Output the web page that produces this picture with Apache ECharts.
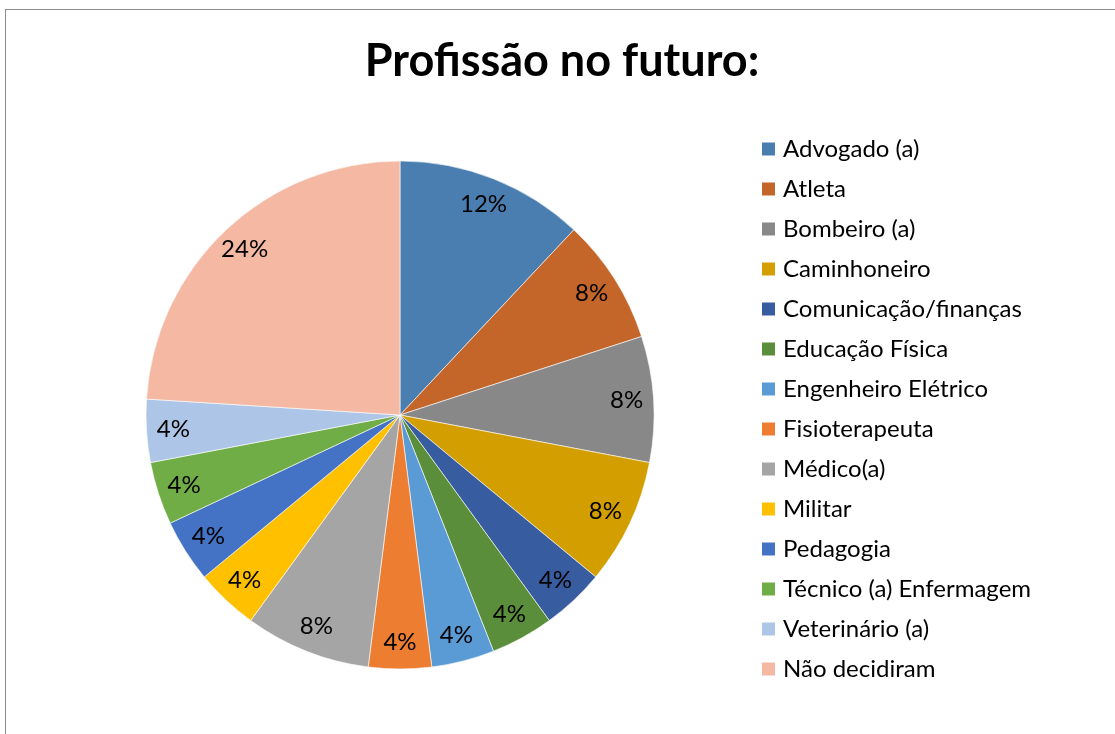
<!DOCTYPE html>
<html lang="pt-br">
<head>
  <meta charset="utf-8">
  <title>Profissão no futuro</title>
  <script src="https://cdn.jsdelivr.net/npm/echarts@6/dist/echarts.min.js"></script>
  <style>
    html, body { margin: 0; padding: 0; background: #fff; overflow: hidden; }
    #frame {
      position: absolute; left: 5px; top: 9px;
      width: 1200px; height: 800px;
      border-left: 1px solid #8c8c8c; border-top: 1px solid #8c8c8c;
    }
    #chart-box { position: absolute; left: 0; top: 0; width: 1115px; height: 734px; }
  </style>
</head>
<body>
  <div id="frame"></div>
  <div id="chart-box"></div>
  <script>
    // profissões e quantidade de alunos
    var categories = ['Advogado (a)', 'Atleta', 'Bombeiro (a)', 'Caminhoneiro', 'Comunicação/finanças',
      'Educação Física', 'Engenheiro Elétrico', 'Fisioterapeuta', 'Médico(a)', 'Militar',
      'Pedagogia', 'Técnico (a) Enfermagem', 'Veterinário (a)', 'Não decidiram'];
    var counts = [3, 2, 2, 2, 1, 1, 1, 1, 2, 1, 1, 1, 1, 6];
    var colors = ['#4a7eb0', '#c4652a', '#888888', '#d39e00', '#375c9f', '#5b8e3b', '#5b9bd5',
      '#ed7d31', '#a5a5a5', '#ffc000', '#4472c4', '#70ad47', '#adc5e6', '#f4b8a3'];

    var pieData = categories.map(function (name, i) {
      return { name: name, value: counts[i] };
    });

    var chart = echarts.init(document.querySelector('#chart-box'));
    var font = 'Lato, Calibri, "Noto Sans", sans-serif';

    chart.setOption({
      animation: false,
      color: colors,
      title: {
        text: 'Profissão no futuro:',
        left: 557, top: 34, textAlign: 'center',
        textStyle: { fontFamily: font, fontSize: 45, fontWeight: 'bold', color: '#000' }
      },
      legend: {
        orient: 'vertical',
        left: 760, top: 137,
        padding: 0,
        height: 600,
        icon: 'rect',
        itemWidth: 15, itemHeight: 15, itemGap: 16,
        textStyle: { fontFamily: font, fontSize: 24, color: '#000', padding: [0, 0, 0, 2] },
        data: categories
      },
      series: [{
        type: 'pie',
        center: [400, 415],
        radius: [0, 254],
        startAngle: 90,
        clockwise: true,
        label: { show: false },
        labelLine: { show: false },
        itemStyle: { borderColor: '#fff', borderWidth: 0.6 },
        emphasis: { disabled: true },
        data: pieData
      }, {
        // anel transparente só para posicionar os rótulos perto da borda
        type: 'pie',
        center: [400, 415],
        radius: [194, 254],
        startAngle: 90,
        clockwise: true,
        silent: true,
        legendHoverLink: false,
        itemStyle: { color: 'rgba(0,0,0,0)' },
        label: {
          show: true, position: 'inside',
          formatter: function (p) { return Math.round(p.percent) + '%'; },
          fontFamily: font, fontSize: 24, color: '#000'
        },
        labelLine: { show: false },
        emphasis: { disabled: true },
        data: pieData
      }]
    });
  </script>
</body>
</html>
